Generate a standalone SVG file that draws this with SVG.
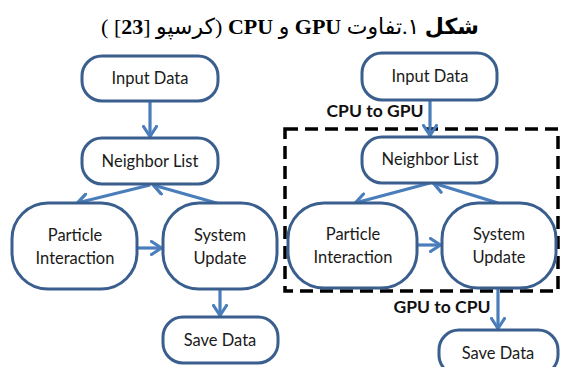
<svg xmlns="http://www.w3.org/2000/svg" width="561" height="367" viewBox="0 0 561 367">
<style>
.box{fill:#fff;stroke:#3A5F8E;stroke-width:3}
.lbl{font-family:Lato,"Open Sans","Liberation Sans",sans-serif;font-size:16.5px;fill:#1a1a1a;text-anchor:middle}
.bl{font-family:Lato,"Open Sans","Liberation Sans",sans-serif;font-size:17.5px;font-weight:bold;fill:#111;text-anchor:middle}
.arr{fill:none;stroke:#4A7EBB;stroke-width:3.2;marker-end:url(#ah)}
.title{font-family:"Liberation Serif","DejaVu Sans",serif;font-size:22px;fill:#000}
</style>
<defs>
<marker id="ah" viewBox="0 0 13 16" refX="12" refY="8" markerWidth="13" markerHeight="16" markerUnits="userSpaceOnUse" orient="auto">
<path d="M1.5,1.5 L11.5,8 L1.5,14.5" fill="none" stroke="#4A7EBB" stroke-width="3.2" stroke-linecap="round" stroke-linejoin="round"/>
</marker>
</defs>
<text class="title" x="290" y="34" text-anchor="middle" direction="rtl"><tspan font-weight="bold">شکل</tspan> ۱.تفاوت <tspan font-weight="bold">GPU</tspan> و <tspan font-weight="bold">CPU</tspan> (کرسپو [<tspan font-weight="bold">23</tspan>] )</text>
<g id="gpu-region">
<rect x="285" y="129" width="273" height="162" fill="none" stroke="#000" stroke-width="3.5" stroke-dasharray="13,7"/>
</g>
<g id="connectors">
<line class="arr" x1="150" y1="101" x2="150" y2="137"/>
<line class="arr" x1="150" y1="185" x2="77" y2="203"/>
<line class="arr" x1="220" y1="204" x2="153" y2="185"/>
<line class="arr" x1="137" y1="248" x2="162" y2="248"/>
<line class="arr" x1="220" y1="289" x2="220" y2="316"/>
<line class="arr" x1="430" y1="100" x2="430" y2="136"/>
<line class="arr" x1="430" y1="183" x2="355" y2="203"/>
<line class="arr" x1="498" y1="203" x2="433" y2="183"/>
<line class="arr" x1="417" y1="245" x2="441" y2="245"/>
<line class="arr" x1="498" y1="288" x2="498" y2="329"/>
<text class="bl" x="375" y="117">CPU to GPU</text>
<text class="bl" x="442" y="313">GPU to CPU</text>
</g>
<g id="l-input"><rect class="box" x="82" y="56" width="136" height="45" rx="20"/><text class="lbl" x="150" y="84">Input Data</text></g>
<g id="l-neighbor"><rect class="box" x="82" y="138" width="136" height="46" rx="20"/><text class="lbl" x="150" y="167">Neighbor List</text></g>
<g id="l-particle"><rect class="box" x="12" y="203" width="125" height="86" rx="36"/><text class="lbl" x="75" y="241">Particle</text><text class="lbl" x="75" y="264">Interaction</text></g>
<g id="l-system"><rect class="box" x="163" y="203" width="114" height="86" rx="36"/><text class="lbl" x="220" y="241">System</text><text class="lbl" x="220" y="264">Update</text></g>
<g id="l-save"><rect class="box" x="163" y="317" width="115" height="46" rx="20"/><text class="lbl" x="220" y="346">Save Data</text></g>
<g id="r-input"><rect class="box" x="362" y="53" width="135" height="47" rx="20"/><text class="lbl" x="430" y="82">Input Data</text></g>
<g id="r-neighbor"><rect class="box" x="362" y="137" width="135" height="46" rx="20"/><text class="lbl" x="430" y="165">Neighbor List</text></g>
<g id="r-particle"><rect class="box" x="288" y="203" width="129" height="85" rx="36"/><text class="lbl" x="353" y="240">Particle</text><text class="lbl" x="353" y="263">Interaction</text></g>
<g id="r-system"><rect class="box" x="442" y="203" width="114" height="85" rx="36"/><text class="lbl" x="499" y="240">System</text><text class="lbl" x="499" y="263">Update</text></g>
<g id="r-save"><rect class="box" x="439" y="330" width="119" height="45" rx="20"/><text class="lbl" x="498" y="359">Save Data</text></g>
</svg>
